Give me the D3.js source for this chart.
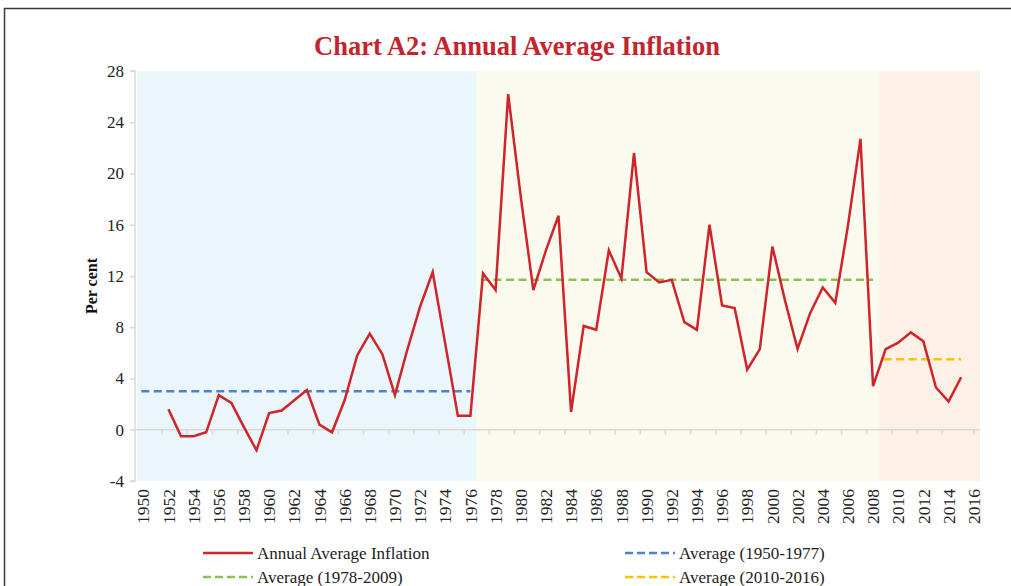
<!DOCTYPE html>
<html>
<head>
<meta charset="utf-8">
<script src="https://cdn.jsdelivr.net/npm/d3@7"></script>
<style>
  body { margin: 0; background: #fff; }
  text { font-family: "Liberation Serif", "Times New Roman", serif; }
</style>
</head>
<body>
<div id="chart"></div>
<script>
// Data
const years = [1950, 1951, 1952, 1953, 1954, 1955, 1956, 1957, 1958, 1959,
    1960, 1961, 1962, 1963, 1964, 1965, 1966, 1967, 1968, 1969,
    1970, 1971, 1972, 1973, 1974, 1975, 1976, 1977, 1978, 1979,
    1980, 1981, 1982, 1983, 1984, 1985, 1986, 1987, 1988, 1989,
    1990, 1991, 1992, 1993, 1994, 1995, 1996, 1997, 1998, 1999,
    2000, 2001, 2002, 2003, 2004, 2005, 2006, 2007, 2008, 2009,
    2010, 2011, 2012, 2013, 2014, 2015, 2016];

// annual average inflation, 1952 .. 2015
const inflationYears = [1952, 1953, 1954, 1955, 1956, 1957, 1958, 1959,
    1960, 1961, 1962, 1963, 1964, 1965, 1966, 1967, 1968, 1969,
    1970, 1971, 1972, 1973, 1974, 1975, 1976, 1977, 1978, 1979,
    1980, 1981, 1982, 1983, 1984, 1985, 1986, 1987, 1988, 1989,
    1990, 1991, 1992, 1993, 1994, 1995, 1996, 1997, 1998, 1999,
    2000, 2001, 2002, 2003, 2004, 2005, 2006, 2007, 2008, 2009,
    2010, 2011, 2012, 2013, 2014, 2015];
const inflation = [1.6, -0.5, -0.5, -0.2, 2.7, 2.1, 0.2, -1.6,
    1.3, 1.5, 2.3, 3.1, 0.4, -0.2, 2.3, 5.8, 7.5, 5.9,
    2.7, 6.3, 9.6, 12.3, 6.7, 1.1, 1.1, 12.2, 10.9, 26.2,
    18.2, 10.9, 14.0, 16.7, 1.4, 8.1, 7.8, 14.0, 11.8, 21.6,
    12.3, 11.5, 11.7, 8.4, 7.8, 16.0, 9.7, 9.5, 4.7, 6.3,
    14.3, 10.1, 6.3, 9.1, 11.1, 9.9, 15.9, 22.7, 3.4, 6.3,
    6.8, 7.6, 6.9, 3.3, 2.2, 4.1];

// period averages: first year, last year, value
const avgNames = ["Average (1950-1977)", "Average (1978-2009)", "Average (2010-2016)"];
const avgFrom = [1950, 1977, 2009];
const avgTo = [1976, 2008, 2015];
const avgValues = [3.0, 11.7, 5.5];

// shaded periods
const shadeFrom = [1950, 1977, 2009];
const shadeTo = [1976, 2008, 2016];

const yTicks = [-4, 0, 4, 8, 12, 16, 20, 24, 28];
const xLabels = years.filter((d, i) => i % 2 === 0);

const width = 1011, height = 586;
const plot = { left: 137, right: 980, top: 71, bottom: 481 };

const avgColors = ["#5082C8", "#8CC152", "#FFC000"];
const shadeColors = ["#EAF6FA", "#FAFAEE", "#FDF0E6"];
const lineColor = "#D1232A";

const svg = d3.select("#chart").append("svg")
    .attr("width", width)
    .attr("height", height);

svg.append("rect").attr("width", width).attr("height", height).attr("fill", "#fff");

// outer frame
svg.append("rect")
    .attr("x", 4.5).attr("y", 8.5)
    .attr("width", 1020).attr("height", 600)
    .attr("fill", "none")
    .attr("stroke", "#3a3a3a")
    .attr("stroke-width", 1.5);

// scales
const x = d3.scaleBand()
    .domain(years)
    .range([plot.left, plot.right])
    .padding(0);

const y = d3.scaleLinear()
    .domain([-4, 28])
    .range([plot.bottom, plot.top]);

const cx = yr => x(yr) + x.bandwidth() / 2;

// background periods
shadeFrom.forEach((f, i) => {
    svg.append("rect")
        .attr("x", x(f))
        .attr("y", plot.top)
        .attr("width", x(shadeTo[i]) + x.bandwidth() - x(f))
        .attr("height", plot.bottom - plot.top)
        .attr("fill", shadeColors[i]);
});

// y axis
const yAxis = svg.append("g")
    .attr("transform", `translate(${plot.left - 2},0)`)
    .call(d3.axisLeft(y).tickValues(yTicks).tickSize(5).tickPadding(6).tickFormat(d => String(d)));
yAxis.select(".domain").attr("stroke", "#d9d9d9").attr("stroke-width", 1.5)
    .attr("d", `M-5,${plot.top}H0V${plot.bottom}H-5`);
yAxis.selectAll(".tick line").attr("stroke", "#d9d9d9").attr("stroke-width", 1.5);
yAxis.selectAll(".tick text")
    .attr("fill", "#222")
    .style("font-family", "Liberation Serif")
    .style("font-size", "17px");

// x axis on the zero line
const xAxisLine = svg.append("g");
xAxisLine.append("line")
    .attr("x1", plot.left - 2).attr("x2", plot.right)
    .attr("y1", y(0)).attr("y2", y(0))
    .attr("stroke", "#d9d9d9").attr("stroke-width", 1.5);
xAxisLine.selectAll(".xtick")
    .data(years.filter((d, i) => i > 0 && i % 2 === 0).concat([2016]))
    .enter().append("line")
    .attr("x1", d => d === 2016 ? x(d) + x.bandwidth() * 0.5 : x(d))
    .attr("x2", d => d === 2016 ? x(d) + x.bandwidth() * 0.5 : x(d))
    .attr("y1", y(0)).attr("y2", y(0) + 5)
    .attr("stroke", "#dcdcdc").attr("stroke-width", 1.5);

// year labels below the plot
svg.selectAll(".year")
    .data(xLabels)
    .enter().append("text")
    .attr("transform", d => `translate(${cx(d)},489) rotate(-90)`)
    .attr("dy", "0.35em")
    .attr("text-anchor", "end")
    .attr("fill", "#222")
    .style("font-size", "17.5px")
    .text(d => d);

// y axis title
svg.append("text")
    .attr("transform", `translate(91,${(plot.top + plot.bottom) / 2 + 10}) rotate(-90)`)
    .attr("dy", "0.35em")
    .attr("text-anchor", "middle")
    .attr("font-weight", "bold")
    .attr("fill", "#111")
    .style("font-size", "16px")
    .text("Per cent");

// title
svg.append("text")
    .attr("x", 517)
    .attr("y", 55)
    .attr("text-anchor", "middle")
    .attr("font-weight", "bold")
    .attr("fill", "#C2252D")
    .style("font-size", "26.5px")
    .text("Chart A2: Annual Average Inflation");

// average lines
avgValues.forEach((v, i) => {
    svg.append("line")
        .attr("x1", cx(avgFrom[i]) - 2)
        .attr("x2", cx(avgTo[i]))
        .attr("y1", y(v)).attr("y2", y(v))
        .attr("stroke", avgColors[i])
        .attr("stroke-width", 2.5)
        .attr("stroke-dasharray", "8,4.5");
});

// inflation line
const line = d3.line()
    .x((d, i) => cx(inflationYears[i]))
    .y(d => y(d));

svg.append("path")
    .datum(inflation)
    .attr("fill", "none")
    .attr("stroke", lineColor)
    .attr("stroke-width", 2.5)
    .attr("d", line);

// legend
const legendItems = [
    { name: "Annual Average Inflation", color: lineColor, dash: null, x: 203, y: 553 },
    { name: avgNames[0], color: avgColors[0], dash: "8,4", x: 625, y: 553 },
    { name: avgNames[1], color: avgColors[1], dash: "8,4", x: 203, y: 577 },
    { name: avgNames[2], color: avgColors[2], dash: "8,4", x: 625, y: 577 }
];

legendItems.forEach(item => {
    svg.append("line")
        .attr("x1", item.x).attr("x2", item.x + 50)
        .attr("y1", item.y).attr("y2", item.y)
        .attr("stroke", item.color)
        .attr("stroke-width", 2.5)
        .attr("stroke-dasharray", item.dash);
    svg.append("text")
        .attr("x", item.x + 54)
        .attr("y", item.y + 6)
        .attr("fill", "#222")
        .style("font-size", "17px")
        .text(item.name);
});
</script>
</body>
</html>
